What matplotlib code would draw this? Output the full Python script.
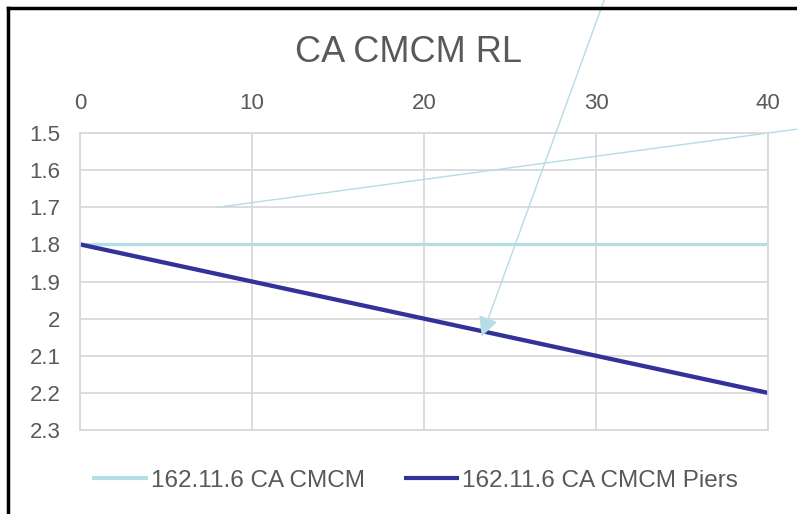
import matplotlib.pyplot as plt
from matplotlib.lines import Line2D
from matplotlib.ticker import FuncFormatter

plt.rcParams['font.family'] = ['Liberation Sans', 'DejaVu Sans']

# chart data
x_vals = [0, 40]
cmcm = [1.8, 1.8]
cmcm_piers = [1.8, 2.2]
series_names = ['162.11.6 CA CMCM', '162.11.6 CA CMCM Piers']

# drawn-on shapes (data coords)
thin_line_x = [8, 42.5]
thin_line_y = [1.7, 1.4844]
arrow_from = (30.9, 1.088)
arrow_to = (23.3, 2.055)

light = '#B4DDE5'
dark = '#32329A'
grey_txt = '#595959'
grid_c = '#D9D9D9'

fig = plt.figure(figsize=(7.97, 5.14), dpi=100)
ax = fig.add_axes([0.1004, 0.1634, 0.8632, 0.5778])

ax.plot(x_vals, cmcm, color=light, lw=2.3, label=series_names[0], solid_capstyle='butt')
ax.plot(x_vals, cmcm_piers, color=dark, lw=3.1, label=series_names[1], solid_capstyle='butt')

ax.set_xlim(0, 40)
ax.set_ylim(2.3, 1.5)
ax.set_xticks([0, 10, 20, 30, 40])
ax.set_yticks([1.5, 1.6, 1.7, 1.8, 1.9, 2.0, 2.1, 2.2, 2.3])
ax.yaxis.set_major_formatter(FuncFormatter(lambda v, p: '%g' % round(v, 1)))
ax.xaxis.tick_top()
ax.tick_params(length=0, labelsize=16, colors=grey_txt, pad=14)
ax.grid(True, color=grid_c, lw=1.3)
ax.set_axisbelow(True)
for s in ax.spines.values():
    s.set_color(grid_c)
    s.set_linewidth(1.3)

ax.plot(thin_line_x, thin_line_y, color=light, lw=1, clip_on=False)
ax.annotate('', xy=arrow_to, xytext=arrow_from,
            arrowprops=dict(arrowstyle='-|>', color=light, lw=1, mutation_scale=30),
            annotation_clip=False)

fig.text(0.512, 0.897, 'CA CMCM RL', ha='center', va='center', fontsize=26, color=grey_txt)

leg = ax.legend(loc='center', bbox_to_anchor=(0.487, -0.17), ncol=2, frameon=False,
                fontsize=17.5, handlelength=2.3, handletextpad=0.1, columnspacing=1.6)
for t in leg.get_texts():
    t.set_color(grey_txt)
for h in leg.get_lines():
    h.set_linewidth(3)

# outer frame
fig.add_artist(Line2D([8 / 797, 1], [1 - 8 / 514, 1 - 8 / 514], color='black', lw=2.5))
fig.add_artist(Line2D([8 / 797, 8 / 797], [0, 1 - 8 / 514], color='black', lw=2.5))

fig.savefig('out.png', dpi=100)
